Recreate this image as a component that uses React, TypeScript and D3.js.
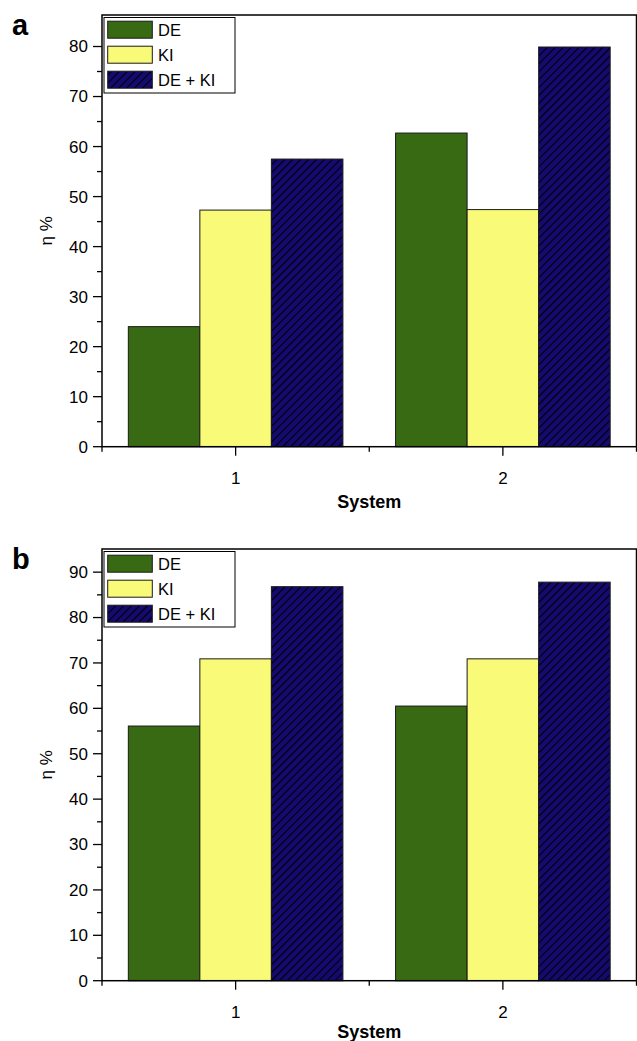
import React from "react";
import * as d3 from "d3";

const categories = [1, 2];
const seriesNames = ["DE", "KI", "DE + KI"];
const panelAValues = {
  DE: [24.0, 62.7],
  KI: [47.3, 47.4],
  DEKI: [57.5, 79.9],
};
const panelBValues = {
  DE: [56.1, 60.5],
  KI: [70.9, 70.9],
  DEKI: [86.8, 87.8],
};
const panelATicks = [0, 10, 20, 30, 40, 50, 60, 70, 80];
const panelBTicks = [0, 10, 20, 30, 40, 50, 60, 70, 80, 90];
const panelLabels = ["a", "b"];

const COLORS = ["#386a13", "#f9fb78", "url(#hatch)"];
const FONT = "Liberation Sans, Arial, Helvetica, sans-serif";

type PanelProps = {
  label: string;
  top: number;
  bottom: number;
  yMax: number;
  ticks: number[];
  values: number[][];
  tickLabelY: number;
  titleY: number;
};

function Panel({ label, top, bottom, yMax, ticks, values, tickLabelY, titleY }: PanelProps) {
  const left = 102;
  const right = 636.5;
  const x = d3.scaleLinear().domain([0.5, 2.5]).range([left, right]);
  const y = d3.scaleLinear().domain([0, yMax]).range([bottom, top]);
  const band = d3.scaleBand<number>().domain([0, 1, 2]).range([-107.3, 107.3]).padding(0);
  const minorY = d3.range(5, ticks[ticks.length - 1] + 5, 10).filter((v) => v < yMax);
  const minorX = [0.5, 1.5, 2.5];
  const legendTop = top + 2.5;
  return (
    <g>
      <text x={12} y={top + 20} fontFamily={FONT} fontWeight="bold" fontSize={29}>
        {label}
      </text>
      {/* bars */}
      {categories.map((c, ci) =>
        values.map((s, si) => (
          <rect
            key={`${ci}-${si}`}
            x={x(c) + (band(si) as number)}
            y={y(s[ci])}
            width={band.bandwidth()}
            height={bottom - y(s[ci])}
            fill={COLORS[si]}
            stroke="#1a1a1a"
            strokeWidth={1}
          />
        ))
      )}
      {/* frame */}
      <rect x={left} y={top} width={right - left} height={bottom - top} fill="none" stroke="#000" strokeWidth={1.5} />
      {/* y ticks */}
      {ticks.map((t) => (
        <g key={t}>
          <line x1={left - 9} x2={left} y1={y(t)} y2={y(t)} stroke="#000" strokeWidth={1.3} />
          <text x={left - 14} y={y(t)} dy="0.35em" textAnchor="end" fontFamily={FONT} fontSize={17}>
            {t}
          </text>
        </g>
      ))}
      {minorY.map((t) => (
        <line key={t} x1={left - 5} x2={left} y1={y(t)} y2={y(t)} stroke="#000" strokeWidth={1.3} />
      ))}
      {/* x ticks */}
      {categories.map((c) => (
        <g key={c}>
          <line x1={x(c)} x2={x(c)} y1={bottom} y2={bottom + 9} stroke="#000" strokeWidth={1.3} />
          <text x={x(c)} y={tickLabelY} textAnchor="middle" fontFamily={FONT} fontSize={17}>
            {c}
          </text>
        </g>
      ))}
      {minorX.map((c) => (
        <line key={c} x1={x(c)} x2={x(c)} y1={bottom} y2={bottom + 5} stroke="#000" strokeWidth={1.3} />
      ))}
      {/* axis titles */}
      <text x={(left + right) / 2} y={titleY} textAnchor="middle" fontFamily={FONT} fontWeight="bold" fontSize={18}>
        System
      </text>
      <text
        transform={`translate(${52},${(top + bottom) / 2}) rotate(-90)`}
        textAnchor="middle"
        fontFamily={FONT}
        fontSize={17}
      >
        η %
      </text>
      {/* legend */}
      <rect x={104} y={legendTop} width={131} height={75.5} fill="#fff" stroke="#000" strokeWidth={1} />
      {seriesNames.map((n, i) => (
        <g key={n}>
          <rect
            x={107.7}
            y={legendTop + 3.7 + i * 25}
            width={44.6}
            height={17}
            fill={COLORS[i]}
            stroke="#1a1a1a"
            strokeWidth={1}
          />
          <text x={158} y={legendTop + 12.2 + i * 25} dy="0.36em" fontFamily={FONT} fontSize={16.5}>
            {n}
          </text>
        </g>
      ))}
    </g>
  );
}

export default function App() {
  const a = [panelAValues.DE, panelAValues.KI, panelAValues.DEKI];
  const b = [panelBValues.DE, panelBValues.KI, panelBValues.DEKI];
  return (
    <svg
      width={637}
      height={1041}
      style={{ position: "absolute", left: 0, top: 0, background: "#fff" }}
    >
      <defs>
        <pattern id="hatch" patternUnits="userSpaceOnUse" width={5.6} height={5.6} patternTransform="rotate(45)">
          <rect width={5.6} height={5.6} fill="#140a70" />
          <line x1={0} y1={0} x2={0} y2={5.6} stroke="#000" strokeWidth={2.2} />
        </pattern>
      </defs>
      <Panel
        label={panelLabels[0]}
        top={15}
        bottom={446.7}
        yMax={86.3}
        ticks={panelATicks}
        values={a}
        tickLabelY={484}
        titleY={508}
      />
      <Panel
        label={panelLabels[1]}
        top={549}
        bottom={980.7}
        yMax={95.1}
        ticks={panelBTicks}
        values={b}
        tickLabelY={1018}
        titleY={1038}
      />
    </svg>
  );
}
